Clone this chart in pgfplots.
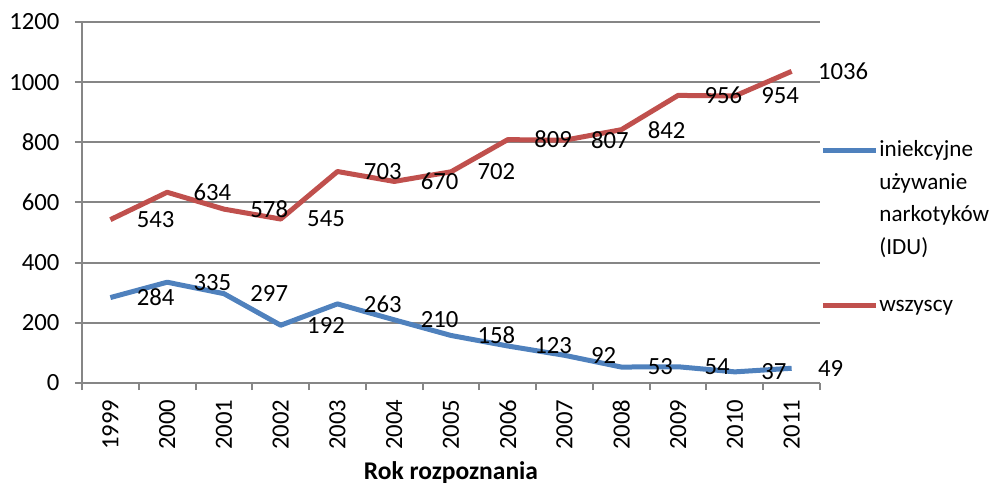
\documentclass[border=0pt]{standalone}
\usepackage{pgfplots}
\pgfplotsset{compat=1.18}
\usepackage{fontspec}
\setmainfont{Carlito}
\definecolor{idu}{HTML}{4F81BD}
\definecolor{allc}{HTML}{C0504D}
\definecolor{gridc}{HTML}{868686}
\newcommand\fs{\fontsize{12.4}{15}\selectfont}
\newcommand\lfs{\fontsize{11.6}{15}\selectfont}
\begin{document}
\fs
\begin{tikzpicture}
\begin{axis}[
  scale only axis, width=369bp, height=180.5bp,
  xmin=-0.5, xmax=12.5, ymin=0, ymax=1200,
  ytick={0,200,...,1200},
  xtick={-0.5,0.5,...,12.5}, xticklabels={},
  extra x ticks={0,1,2,3,4,5,6,7,8,9,10,11,12},
  extra x tick labels={1999,2000,2001,2002,2003,2004,2005,2006,2007,2008,2009,2010,2011},
  extra x tick style={major tick length=0pt},
  xticklabel style={rotate=90, anchor=east},
  xticklabel shift=4bp, yticklabel shift=3.5bp,
  axis x line*=bottom, axis y line*=left,
  ymajorgrids, grid style={gridc, line width=1bp},
  axis line style={gridc, line width=1bp},
  tick style={gridc, line width=1bp},
  tick align=outside, major tick length=3.5bp,
  /pgf/number format/assume math mode=true,
  /pgf/number format/1000 sep={},
  tick label style={font=\fs, text=black},
  nodes near coords,
  nodes near coords style={anchor=west, xshift=7.9bp, text=black, font=\fs},
  xlabel={Rok rozpoznania},
  xlabel style={font=\fontsize{12.8}{15}\selectfont\bfseries, at={(axis description cs:0.5,0)}, anchor=center, yshift=-45bp},
  legend style={at={(axis description cs:1,1)}, xshift=0bp, yshift=-54.5bp, anchor=north west,
    draw=none, fill=none, inner sep=0pt, row sep=0pt,
    /tikz/every odd column/.style={column sep=-1.5bp},
    cells={anchor=base west, inner sep=0pt, text height=10.5bp, text depth=4.5bp}, font=\lfs},
  legend image code/.code={\draw[#1, line width=2.5bp] (0bp,2.9bp) -- (26.5bp,2.9bp);},
]
\addplot[idu, line width=2.5bp, line join=round, mark=none] coordinates {
(0,284) (1,335) (2,297) (3,192) (4,263) (5,210) (6,158) (7,123) (8,92) (9,53) (10,54) (11,37) (12,49)};
\addlegendentry{iniekcyjne}
\addlegendimage{empty legend}
\addlegendentry{używanie}
\addlegendimage{empty legend}
\addlegendentry{narkotyków}
\addlegendimage{empty legend}
\addlegendentry{(IDU)}
\addplot[allc, line width=2.5bp, line join=round, mark=none] coordinates {
(0,543) (1,634) (2,578) (3,545) (4,703) (5,670) (6,702) (7,809) (8,807) (9,842) (10,956) (11,954) (12,1036)};
\addlegendentry[text height=22.5bp]{wszyscy}
\end{axis}
\pgfresetboundingbox
\path[use as bounding box] ([xshift=-41bp, yshift=-50.5bp]current axis.south west) rectangle ([xshift=86.5bp, yshift=11bp]current axis.north east);
\end{tikzpicture}
\end{document}
